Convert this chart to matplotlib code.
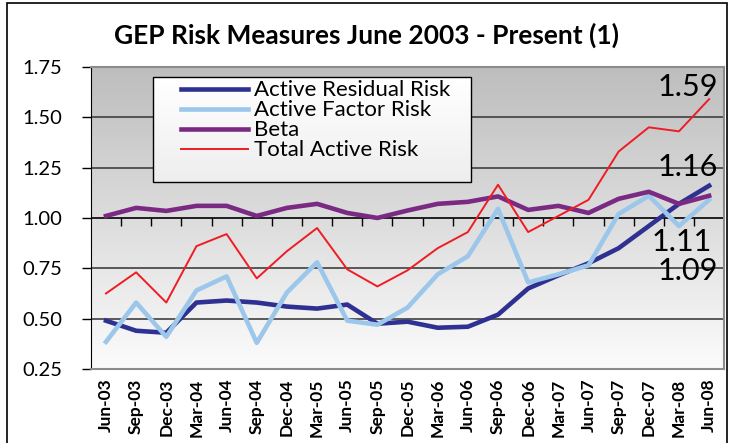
import numpy as np
import matplotlib
matplotlib.use("Agg")
import matplotlib.pyplot as plt
from matplotlib.patches import Rectangle

plt.rcParams['font.family'] = ['Lato', 'DejaVu Sans']

quarters = ["Jun-03", "Sep-03", "Dec-03", "Mar-04", "Jun-04", "Sep-04", "Dec-04",
            "Mar-05", "Jun-05", "Sep-05", "Dec-05", "Mar-06", "Jun-06", "Sep-06",
            "Dec-06", "Mar-07", "Jun-07", "Sep-07", "Dec-07", "Mar-08", "Jun-08"]
residual = [0.49, 0.44, 0.43, 0.58, 0.59, 0.58, 0.56, 0.55, 0.57, 0.475, 0.485,
            0.455, 0.46, 0.52, 0.65, 0.715, 0.775, 0.85, 0.96, 1.07, 1.16]
factor = [0.385, 0.58, 0.41, 0.64, 0.71, 0.38, 0.63, 0.78, 0.49, 0.47, 0.555,
          0.72, 0.81, 1.045, 0.68, 0.72, 0.765, 1.02, 1.11, 0.96, 1.09]
beta = [1.01, 1.05, 1.035, 1.06, 1.06, 1.01, 1.05, 1.07, 1.025, 1.00, 1.037,
        1.07, 1.08, 1.107, 1.04, 1.06, 1.025, 1.095, 1.13, 1.07, 1.11]
total = [0.625, 0.73, 0.58, 0.86, 0.92, 0.70, 0.835, 0.95, 0.745, 0.66, 0.74,
         0.85, 0.93, 1.165, 0.93, 1.01, 1.09, 1.33, 1.45, 1.43, 1.59]
end_labels = ["1.59", "1.16", "1.11", "1.09"]
yticks = [0.25, 0.5, 0.75, 1.0, 1.25, 1.5, 1.75]

fig = plt.figure(figsize=(7.33, 4.43), dpi=100)
ax = fig.add_axes([0.124, 0.167, 0.864, 0.682])
x = np.arange(len(quarters))
xmin, xmax = -0.5, len(quarters) - 0.5
ymin, ymax = 0.25, 1.75


def vgradient(x0, x1, y0, y1, g_bottom, g_top, z, n=120):
    # stack of thin horizontal bands, grey level g_bottom at y0 -> g_top at y1
    edges = np.linspace(y0, y1, n + 1)
    for i in range(n):
        g = g_bottom + (g_top - g_bottom) * (i + 0.5) / n
        ax.add_patch(Rectangle((x0, edges[i]), x1 - x0, edges[i + 1] - edges[i],
                               facecolor=(g, g, g), edgecolor='none', lw=0,
                               antialiased=False, zorder=z))


# plot background: near white at the bottom -> grey at the top
vgradient(xmin, xmax, ymin, ymax, 0.985, 0.74, 0)

for v in [0.5, 0.75, 1.25, 1.5]:
    ax.axhline(v, color='#404040', lw=1.2, zorder=1)
ax.axhline(1.0, color='black', lw=1.2, zorder=1)

# category tick marks hanging from the 1.00 line
ax.vlines(np.arange(0.5, len(quarters) - 1, 1.0), 0.96, 1.0, color='black', lw=1.0, zorder=1)

ax.plot(x, residual, color='#2e3192', lw=3.3, label='Active Residual Risk', zorder=3)
ax.plot(x, factor, color='#9cc7ea', lw=3.3, label='Active Factor Risk', zorder=3)
ax.plot(x, beta, color='#7b2a84', lw=3.3, label='Beta', zorder=3)
ax.plot(x, total, color='#ee1c24', lw=1.4, label='Total Active Risk', zorder=4)

ax.text(20.3, 1.65, end_labels[0], ha='right', va='center', fontsize=22, zorder=6)
ax.text(20.3, 1.255, end_labels[1], ha='right', va='center', fontsize=22, zorder=6)
ax.text(20.1, 0.88, end_labels[2], ha='right', va='center', fontsize=22, zorder=6)
ax.text(20.3, 0.735, end_labels[3], ha='right', va='center', fontsize=22, zorder=6)

# legend box (axes fractions) with a faint gradient
fx0, fx1, fy0, fy1 = 0.098, 0.600, 0.619, 0.967
lx0, lx1 = xmin + fx0 * (xmax - xmin), xmin + fx1 * (xmax - xmin)
ly0, ly1 = ymin + fy0 * (ymax - ymin), ymin + fy1 * (ymax - ymin)
vgradient(lx0, lx1, ly0, ly1, 0.93, 1.0, 5, n=40)
ax.add_patch(Rectangle((lx0, ly0), lx1 - lx0, ly1 - ly0, fill=False, edgecolor='black',
                       lw=1.0, zorder=6))
leg = ax.legend(loc='upper left', bbox_to_anchor=(0.143, 0.955), fontsize=16, handlelength=3.0,
                labelspacing=0.0, borderpad=0, handletextpad=0.25, frameon=False,
                borderaxespad=0)
leg.set_zorder(7)

ax.set_xlim(xmin, xmax)
ax.set_ylim(ymin, ymax)
ax.set_yticks(yticks)
ax.set_yticklabels(["%.2f" % v for v in yticks], fontsize=14.5)
ax.set_xticks(x)
ax.set_xticklabels(quarters, rotation=90, fontsize=12.5, fontweight='bold')
ax.tick_params(axis='x', length=0, pad=7)
ax.tick_params(axis='y', length=6.5, width=1, direction='out', pad=14)

for s in ['top', 'right', 'bottom']:
    ax.spines[s].set_color('#8c8c8c')
    ax.spines[s].set_linewidth(1.5)
ax.spines['left'].set_color('black')

fig.text(0.5, 0.921, "GEP Risk Measures June 2003 - Present (1)", ha='center', va='center',
         fontsize=19, fontweight='bold')

fig.patches.append(Rectangle((0.0095, -0.01), 0.982, 1.003, transform=fig.transFigure,
                             fill=False, edgecolor='black', lw=1.2))

fig.savefig("out.png", dpi=100)
